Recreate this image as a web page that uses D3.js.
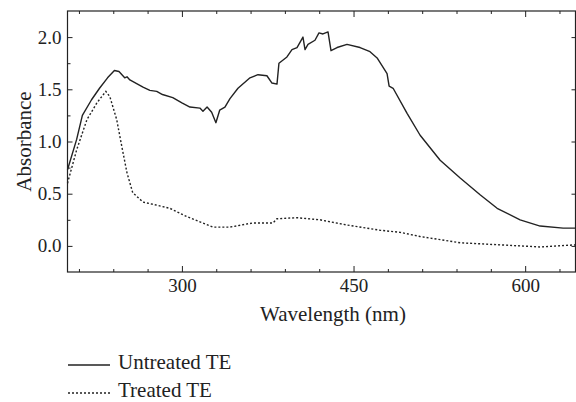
<!DOCTYPE html>
<html>
<head>
<meta charset="utf-8">
<script src="https://cdn.jsdelivr.net/npm/d3@7"></script>
<style>
  body { margin: 0; background: #fff; }
  svg, svg text { font-family: "Liberation Serif", "Times New Roman", serif !important; fill: #222; }
</style>
</head>
<body>
<div id="chart"></div>
<script>
// dados
const untreatedWl = [200, 208, 213, 221, 228, 235, 241, 245, 250, 252, 254.5, 266, 272, 278, 283, 292, 300, 307, 315.7, 318.4, 322, 326, 329.7, 333, 337.6, 342, 349, 359.5, 366.5, 374.3, 378.7, 383.1, 384.8, 391.8, 396.2, 400.6, 405.8, 407.6, 410.2, 416.3, 419.8, 423.3, 427.7, 430.3, 435.6, 444.3, 455.7, 464.4, 470.6, 479.3, 481.1, 484.6, 496.8, 508.2, 525.7, 543.2, 560.6, 575.5, 595.6, 613.1, 633.2, 644];
const untreatedAbs = [0.73, 1.02, 1.25, 1.40, 1.51, 1.61, 1.68, 1.67, 1.61, 1.62, 1.59, 1.52, 1.49, 1.48, 1.45, 1.42, 1.37, 1.33, 1.32, 1.29, 1.33, 1.28, 1.18, 1.30, 1.33, 1.41, 1.51, 1.61, 1.64, 1.63, 1.56, 1.55, 1.75, 1.81, 1.88, 1.90, 2.00, 1.88, 1.93, 1.97, 2.04, 2.03, 2.05, 1.87, 1.90, 1.93, 1.90, 1.86, 1.80, 1.65, 1.53, 1.51, 1.27, 1.06, 0.82, 0.65, 0.49, 0.36, 0.25, 0.19, 0.17, 0.17];

const treatedWl = [200, 208, 217, 225.7, 233.5, 237, 243, 247.5, 252, 257, 266, 278, 289.5, 304.4, 315.7, 327, 342, 362, 379.6, 383.1, 400.6, 420.7, 444.3, 473.2, 490.7, 508.2, 543.2, 578.1, 613.1, 644];
const treatedAbs = [0.60, 0.92, 1.21, 1.37, 1.48, 1.43, 1.21, 0.95, 0.70, 0.51, 0.42, 0.39, 0.36, 0.28, 0.23, 0.18, 0.18, 0.22, 0.22, 0.26, 0.27, 0.25, 0.20, 0.15, 0.13, 0.09, 0.03, 0.01, -0.01, 0.01];

const xMajor = [300, 450, 600];
const xMinor = [210, 240, 270, 330, 360, 390, 420, 480, 510, 540, 570, 630];
const yMajor = [0, 0.5, 1.0, 1.5, 2.0];
const yMinor = [0.25, 0.75, 1.25, 1.75];

const seriesNames = ["Untreated TE", "Treated TE"];

const width = 576;
const height = 402;
const margin = { top: 11, right: 0.5, bottom: 130, left: 67.5 };

const x = d3.scaleLinear().domain([200, 644]).range([margin.left, width - margin.right]);
const y = d3.scaleLinear().domain([-0.25, 2.25]).range([height - margin.bottom, margin.top]);

const svg = d3
  .select("#chart")
  .append("svg")
  .attr("width", width)
  .attr("height", height);

const ink = "#222";

// eixos (ticks para dentro)
function drawAxis(axis, transform) {
  const g = svg
    .append("g")
    .attr("transform", transform)
    .call(axis)
    .attr("font-family", null)
    .attr("font-size", 19);
  g.select(".domain").remove();
  g.selectAll("line").attr("stroke", ink).attr("stroke-width", 1);
  g.selectAll("text").attr("fill", ink);
  return g;
}

const yBottom = y.range()[0];
const yTop = y.range()[1];

drawAxis(d3.axisBottom(x).tickValues(xMajor).tickSizeInner(-6).tickSizeOuter(0).tickPadding(7), `translate(0,${yBottom})`);
drawAxis(d3.axisBottom(x).tickValues(xMinor).tickSizeInner(-3).tickSizeOuter(0).tickFormat(""), `translate(0,${yBottom})`);
drawAxis(d3.axisTop(x).tickValues(xMajor).tickSizeInner(-6).tickSizeOuter(0).tickFormat(""), `translate(0,${yTop})`);
drawAxis(d3.axisTop(x).tickValues(xMinor).tickSizeInner(-3).tickSizeOuter(0).tickFormat(""), `translate(0,${yTop})`);

drawAxis(d3.axisLeft(y).tickValues(yMajor).tickSizeInner(-5).tickSizeOuter(0).tickPadding(6).tickFormat(d3.format(".1f")), `translate(${margin.left},0)`);
drawAxis(d3.axisLeft(y).tickValues(yMinor).tickSizeInner(-3).tickSizeOuter(0).tickFormat(""), `translate(${margin.left},0)`);
drawAxis(d3.axisRight(y).tickValues(yMajor).tickSizeInner(-4).tickSizeOuter(0).tickFormat(""), `translate(${x.range()[1]},0)`);

// moldura
svg
  .append("rect")
  .attr("x", margin.left)
  .attr("y", yTop)
  .attr("width", x.range()[1] - margin.left)
  .attr("height", yBottom - yTop)
  .attr("fill", "none")
  .attr("stroke", ink)
  .attr("stroke-width", 1.2);

// linhas
const untreated = untreatedWl.map((w, i) => ({ w, a: untreatedAbs[i] }));
const treated = treatedWl.map((w, i) => ({ w, a: treatedAbs[i] }));

const line = d3
  .line()
  .x((d) => x(d.w))
  .y((d) => y(d.a));

svg
  .append("path")
  .datum(untreated)
  .attr("d", line)
  .attr("fill", "none")
  .attr("stroke", ink)
  .attr("stroke-width", 1.4)
  .attr("stroke-linejoin", "round");

svg
  .append("path")
  .datum(treated)
  .attr("d", line)
  .attr("fill", "none")
  .attr("stroke", ink)
  .attr("stroke-width", 1.4)
  .attr("stroke-dasharray", "2,2");

// títulos dos eixos
svg
  .append("text")
  .attr("x", 333)
  .attr("y", 321)
  .attr("text-anchor", "middle")
  .attr("font-size", 21)
  .text("Wavelength (nm)");

svg
  .append("text")
  .attr("transform", `translate(31,${(yTop + yBottom) / 2}) rotate(-90)`)
  .attr("text-anchor", "middle")
  .attr("font-size", 21)
  .text("Absorbance");

// legenda
const legend = svg.append("g").attr("transform", "translate(68,365)");
seriesNames.forEach((name, i) => {
  legend
    .append("line")
    .attr("x1", 0)
    .attr("x2", 42)
    .attr("y1", i * 28)
    .attr("y2", i * 28)
    .attr("stroke", ink)
    .attr("stroke-width", 1.4)
    .attr("stroke-dasharray", i === 1 ? "2,2" : null);
  legend
    .append("text")
    .attr("x", 50)
    .attr("y", i * 28 + 4)
    .attr("font-size", 21)
    .text(name);
});
</script>
</body>
</html>
